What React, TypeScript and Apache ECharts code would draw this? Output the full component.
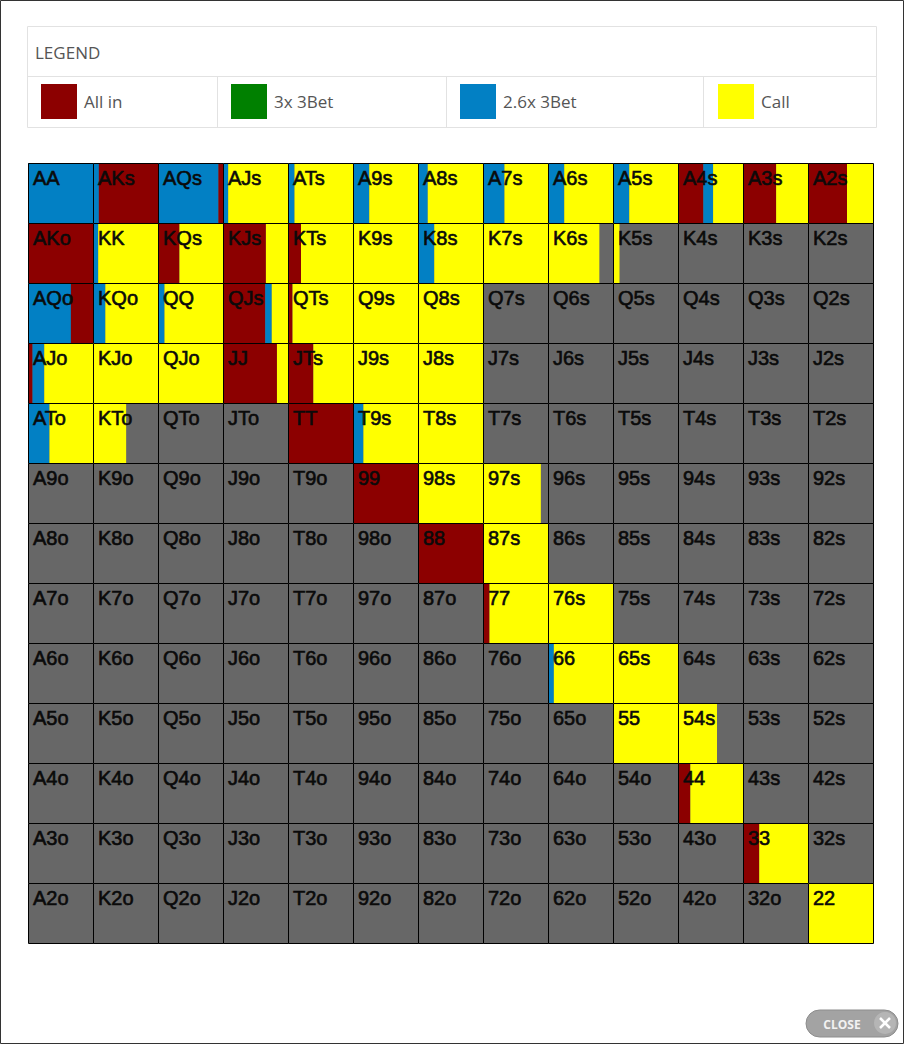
import React, { useEffect, useRef } from "react";
import * as echarts from "echarts";

const RANKS = ["A", "K", "Q", "J", "T", "9", "8", "7", "6", "5", "4", "3", "2"];
const ACTIONS = ["All in", "3x 3Bet", "2.6x 3Bet", "Call"];
const ACTION_CODES = ["r", "g", "b", "y"];
const ACTION_COLORS = ["#8c0000", "#008000", "#0280c4", "#ffff00"];
const FOLD_COLOR = "#676767";

// Each cell: segments from left to right, code + percentage; the rest is fold (gray)
const rowA = ["b100", "b9 r91", "b93 r7", "b8 y92", "b10 y90", "b25 y75", "b15 y85", "b33 y67", "b25 y75", "b25 y75", "r39 b15 y46", "r51 y49", "r60 y40"];
const rowK = ["r100", "b8 y92", "r33 y67", "r66 y34", "r20 y80", "y100", "b25 y75", "y100", "y79", "y10", "", "", ""];
const rowQ = ["b66 r34", "b19 y81", "b10 y90", "r65 b10 y25", "r7 y93", "y100", "y100", "", "", "", "", "", ""];
const rowJ = ["r7 b18 y75", "y100", "y100", "r83 y17", "r39 y61", "y100", "y100", "", "", "", "", "", ""];
const rowT = ["b33 y67", "y51", "", "", "r100", "b16 y84", "y100", "", "", "", "", "", ""];
const row9 = ["", "", "", "", "", "r100", "y100", "y89", "", "", "", "", ""];
const row8 = ["", "", "", "", "", "", "r100", "y100", "", "", "", "", ""];
const row7 = ["", "", "", "", "", "", "", "r10 y90", "y100", "", "", "", ""];
const row6 = ["", "", "", "", "", "", "", "", "b9 y91", "y100", "", "", ""];
const row5 = ["", "", "", "", "", "", "", "", "", "y100", "y60", "", ""];
const row4 = ["", "", "", "", "", "", "", "", "", "", "r19 y81", "", ""];
const row3 = ["", "", "", "", "", "", "", "", "", "", "", "r25 y75", ""];
const row2 = ["", "", "", "", "", "", "", "", "", "", "", "", "y100"];
const ROWS = [rowA, rowK, rowQ, rowJ, rowT, row9, row8, row7, row6, row5, row4, row3, row2];

function handLabel(row: number, col: number): string {
  if (row === col) return RANKS[row] + RANKS[col];
  if (col > row) return RANKS[row] + RANKS[col] + "s";
  return RANKS[col] + RANKS[row] + "o";
}

function parseSegs(spec: string): { color: string; frac: number }[] {
  if (!spec) return [];
  return spec.split(" ").map((t) => {
    const code = t[0];
    const pct = parseFloat(t.slice(1));
    return { color: ACTION_COLORS[ACTION_CODES.indexOf(code)], frac: pct / 100 };
  });
}

export default function App() {
  const ref = useRef<HTMLDivElement>(null);
  useEffect(() => {
    if (!ref.current) return;
    const chart = echarts.init(ref.current, null, { renderer: "svg" });

    const cells: { label: string; segs: { color: string; frac: number }[] }[] = [];
    const data: number[][] = [];
    ROWS.forEach((r, ri) => {
      r.forEach((spec, ci) => {
        cells.push({ label: handLabel(ri, ci), segs: parseSegs(spec) });
        data.push([ci, ri]);
      });
    });

    const legendLefts = [41, 231, 460, 718];

    const option: any = {
      animation: false,
      backgroundColor: "#ffffff",
      grid: { left: 28, top: 163, width: 845, height: 780, containLabel: false },
      xAxis: { type: "category", data: RANKS, show: false },
      yAxis: { type: "category", data: RANKS, inverse: true, show: false },
      legend: ACTIONS.map((a, i) => ({
        data: [a],
        left: legendLefts[i],
        top: 84,
        icon: "rect",
        itemWidth: 36,
        itemHeight: 35,
        selectedMode: false,
        padding: 0,
        textStyle: {
          fontSize: 17,
          color: "#555555",
          fontFamily: "Open Sans",
          padding: [0, 0, 0, 2],
        },
      })),
      graphic: [
        {
          type: "rect",
          shape: { x: 0.5, y: 0.5, width: 903, height: 1043 },
          style: { fill: "none", stroke: "#333", lineWidth: 1 },
          silent: true,
        },
        {
          type: "rect",
          shape: { x: 27.5, y: 26.5, width: 849, height: 101 },
          style: { fill: "none", stroke: "#e2e2e2", lineWidth: 1 },
          silent: true,
        },
        {
          type: "line",
          shape: { x1: 27.5, y1: 76.5, x2: 876.5, y2: 76.5 },
          style: { stroke: "#e2e2e2", lineWidth: 1 },
        },
        ...[217.5, 446.5, 703.5].map((x) => ({
          type: "line",
          shape: { x1: x, y1: 76.5, x2: x, y2: 127.5 },
          style: { stroke: "#e2e2e2", lineWidth: 1 },
        })),
        {
          type: "text",
          x: 35,
          y: 52,
          style: {
            text: "LEGEND",
            fontSize: 17,
            fontFamily: "Open Sans",
            fill: "#555555",
            verticalAlign: "middle",
          },
        },
        {
          type: "rect",
          shape: { x: 806, y: 1010, width: 92, height: 27, r: 13.5 },
          style: { fill: "#a3a3a3", stroke: "#8d8d8d", lineWidth: 1 },
        },
        {
          type: "text",
          x: 842,
          y: 1024,
          style: {
            text: "CLOSE",
            fontSize: 12,
            fontWeight: "bold",
            fontFamily: "Open Sans",
            fill: "#f2f2f2",
            align: "center",
            verticalAlign: "middle",
          },
        },
        {
          type: "circle",
          shape: { cx: 885, cy: 1023, r: 11 },
          style: { fill: "#b5b5b5" },
        },
        {
          type: "line",
          shape: { x1: 880, y1: 1018, x2: 890, y2: 1028 },
          style: { stroke: "#ffffff", lineWidth: 2.5 },
        },
        {
          type: "line",
          shape: { x1: 890, y1: 1018, x2: 880, y2: 1028 },
          style: { stroke: "#ffffff", lineWidth: 2.5 },
        },
      ],
      series: [
        ...ACTIONS.map((a, i) => ({
          type: "bar",
          name: a,
          data: [],
          itemStyle: { color: ACTION_COLORS[i] },
        })),
        {
          type: "custom",
          name: "Range",
          data,
          renderItem: (params: any, api: any) => {
            const col = api.value(0);
            const row = api.value(1);
            const c = api.coord([col, row]);
            const s = api.size([1, 1]);
            const w = s[0];
            const h = s[1];
            const x0 = c[0] - w / 2;
            const y0 = c[1] - h / 2;
            const cell = cells[params.dataIndex];
            const children: any[] = [];
            children.push({
              type: "rect",
              shape: { x: x0, y: y0, width: w, height: h },
              style: { fill: FOLD_COLOR },
            });
            let x = x0;
            cell.segs.forEach((sg) => {
              const sw = sg.frac * w;
              children.push({
                type: "rect",
                shape: { x, y: y0, width: sw, height: h },
                style: { fill: sg.color },
              });
              x += sw;
            });
            children.push({
              type: "rect",
              shape: { x: x0 + 0.5, y: y0 + 0.5, width: w, height: h },
              style: { fill: "none", stroke: "#000000", lineWidth: 1 },
            });
            children.push({
              type: "text",
              x: x0 + 5,
              y: y0 + 5,
              style: {
                text: cell.label,
                fontSize: 20,
                fontFamily: "Liberation Sans",
                fill: "#0a0a0a",
                stroke: "#0a0a0a",
                lineWidth: 0.6,
                verticalAlign: "top",
              },
            });
            return { type: "group", children };
          },
        },
      ],
    };
    chart.setOption(option);
    return () => chart.dispose();
  }, []);

  return (
    <div
      ref={ref}
      style={{ position: "absolute", left: 0, top: 0, width: 904, height: 1044 }}
    />
  );
}
